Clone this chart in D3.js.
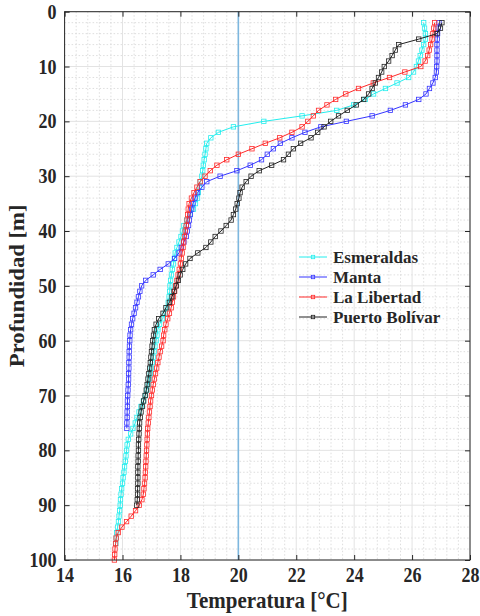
<!DOCTYPE html>
<html>
<head>
<meta charset="utf-8">
<script src="https://cdn.jsdelivr.net/npm/d3@7"></script>
<style>
  html, body { margin: 0; padding: 0; background: #fff; }
  svg { display: block; }
  text { font-family: "Liberation Serif", "Times New Roman", serif; font-weight: bold; fill: #262626; }
</style>
</head>
<body>
<svg id="chart" width="480" height="616"></svg>
<script>
// Temperature profiles (°C) sampled every metre, starting at startDepth
const stations = ["Esmeraldas", "Manta", "La Libertad", "Puerto Bolívar"];
const stationColors = ["#22eeee", "#3535ff", "#ff2a2a", "#222222"];

const esmeraldasStart = 2;
const esmeraldasTemp = [
  26.40, 26.43, 26.46, 26.46, 26.40, 26.34, 26.28, 26.22, 26.15, 26.05,
  25.88, 25.48, 25.08, 24.67, 24.38, 23.98, 23.40, 22.20, 20.88, 19.83,
  19.31, 19.05, 18.91, 18.88, 18.85, 18.82, 18.79, 18.77, 18.74, 18.68,
  18.66, 18.62, 18.59, 18.52, 18.45, 18.33, 18.22, 18.12, 18.07, 18.02,
  17.95, 17.88, 17.82, 17.79, 17.76, 17.72, 17.69, 17.66, 17.64, 17.63,
  17.61, 17.58, 17.55, 17.47, 17.38, 17.28, 17.22, 17.19, 17.16, 17.12,
  17.09, 17.06, 17.03, 16.99, 16.96, 16.93, 16.89, 16.84, 16.79, 16.72,
  16.64, 16.57, 16.50, 16.44, 16.36, 16.28, 16.20, 16.16, 16.14, 16.12,
  16.10, 16.07, 16.05, 16.02, 16.00, 15.97, 15.95, 15.93, 15.92, 15.90,
  15.88, 15.86, 15.83, 15.80, 15.78, 15.77
];

const mantaStart = 2;
const mantaTemp = [
  26.93, 26.90, 26.88, 26.87, 26.86, 26.86, 26.86, 26.86, 26.85, 26.84,
  26.80, 26.72, 26.60, 26.48, 26.23, 25.77, 25.25, 24.62, 23.73, 22.85,
  22.30, 21.85, 21.45, 21.21, 21.00, 20.80, 20.41, 19.95, 19.37, 18.91,
  18.74, 18.59, 18.50, 18.43, 18.39, 18.34, 18.31, 18.28, 18.24, 18.20,
  18.12, 18.03, 17.95, 17.80, 17.58, 17.30, 17.06, 16.80, 16.66, 16.60,
  16.55, 16.50, 16.45, 16.40, 16.35, 16.31, 16.28, 16.26, 16.25, 16.24,
  16.23, 16.23, 16.22, 16.22, 16.21, 16.21, 16.20, 16.19, 16.18, 16.17,
  16.17, 16.16, 16.16, 16.15, 16.15
];

const libertadStart = 2;
const libertadTemp = [
  26.78, 26.75, 26.72, 26.69, 26.64, 26.59, 26.54, 26.45, 26.30, 25.75,
  25.22, 24.66, 24.15, 23.71, 23.36, 23.06, 22.77, 22.59, 22.40, 22.20,
  21.85, 21.43, 20.93, 20.47, 20.00, 19.60, 19.26, 19.03, 18.85, 18.68,
  18.57, 18.47, 18.38, 18.30, 18.27, 18.25, 18.23, 18.20, 18.17, 18.14,
  18.11, 18.09, 18.06, 18.03, 18.00, 17.96, 17.92, 17.88, 17.84, 17.80,
  17.76, 17.72, 17.68, 17.62, 17.56, 17.50, 17.46, 17.42, 17.40, 17.35,
  17.30, 17.26, 17.22, 17.18, 17.14, 17.10, 17.06, 17.03, 17.00, 16.97,
  16.95, 16.93, 16.91, 16.89, 16.87, 16.86, 16.85, 16.84, 16.83, 16.82,
  16.81, 16.80, 16.79, 16.78, 16.76, 16.74, 16.72, 16.67, 16.58, 16.45,
  16.30, 16.14, 15.98, 15.85, 15.78, 15.76, 15.74, 15.73, 15.72
];

const bolivarStart = 2;
const bolivarTemp = [
  27.03, 26.98, 26.86, 26.23, 25.54, 25.42, 25.31, 25.19, 25.04, 24.95,
  24.84, 24.73, 24.62, 24.50, 24.33, 24.07, 23.76, 23.46, 23.19, 22.96,
  22.74, 22.51, 22.15, 21.90, 21.73, 21.56, 21.15, 20.72, 20.44, 20.27,
  20.13, 20.06, 20.02, 19.96, 19.91, 19.83, 19.75, 19.58, 19.40, 19.20,
  19.05, 18.88, 18.60, 18.33, 18.18, 18.08, 17.99, 17.93, 17.86, 17.78,
  17.71, 17.62, 17.50, 17.40, 17.25, 17.16, 17.10, 17.07, 17.04, 17.02,
  17.00, 16.98, 16.96, 16.94, 16.91, 16.88, 16.85, 16.82, 16.78, 16.73,
  16.68, 16.64, 16.61, 16.59, 16.58, 16.57, 16.56, 16.55, 16.55, 16.54,
  16.54, 16.53, 16.53, 16.53, 16.53, 16.52, 16.52, 16.51, 16.49
];

// Reference isotherm
const isotherm = 20;

// Axis ticks
const xTicks = [14, 16, 18, 20, 22, 24, 26, 28];
const yTicks = [0, 10, 20, 30, 40, 50, 60, 70, 80, 90, 100];

const profiles = [
  { start: esmeraldasStart, temps: esmeraldasTemp },
  { start: mantaStart, temps: mantaTemp },
  { start: libertadStart, temps: libertadTemp },
  { start: bolivarStart, temps: bolivarTemp }
].map((p, i) => ({
  name: stations[i],
  color: stationColors[i],
  points: p.temps.map((t, k) => ({ t, d: p.start + k }))
}));

const svg = d3.select("#chart");
const plotL = 64.6, plotR = 470, plotT = 11.7, plotB = 560;

const x = d3.scaleLinear().domain([14, 28]).range([plotL, plotR]);
const y = d3.scaleLinear().domain([0, 100]).range([plotT, plotB]);

// Stretch glyphs vertically about their own centre (tall tick lettering)
function stretchY(sel, k) {
  sel.each(function () {
    const b = this.getBBox();
    const cy = b.y + b.height / 2;
    d3.select(this).attr("transform", `translate(0,${cy}) scale(1,${k}) translate(0,${-cy})`);
  });
}

// Minor grid (dotted)
const xMinor = d3.range(14, 28.001, 0.4).filter(v => Math.abs(v / 2 - Math.round(v / 2)) > 1e-6);
const yMinor = d3.range(0, 100.001, 2).filter(v => v % 10 !== 0);
const grid = svg.append("g");
grid.selectAll(".vx").data(xMinor).join("line")
  .attr("x1", d => x(d)).attr("x2", d => x(d)).attr("y1", plotT).attr("y2", plotB)
  .attr("stroke", "#d6d6d6").attr("stroke-width", 0.8).attr("stroke-dasharray", "1.5,2");
grid.selectAll(".hy").data(yMinor).join("line")
  .attr("y1", d => y(d)).attr("y2", d => y(d)).attr("x1", plotL).attr("x2", plotR)
  .attr("stroke", "#d6d6d6").attr("stroke-width", 0.8).attr("stroke-dasharray", "1.5,2");

// Major grid
grid.selectAll(".mx").data(xTicks).join("line")
  .attr("x1", d => x(d)).attr("x2", d => x(d)).attr("y1", plotT).attr("y2", plotB)
  .attr("stroke", "#e3e3e3").attr("stroke-width", 1);
grid.selectAll(".my").data(yTicks).join("line")
  .attr("y1", d => y(d)).attr("y2", d => y(d)).attr("x1", plotL).attr("x2", plotR)
  .attr("stroke", "#e3e3e3").attr("stroke-width", 1);

// 20 °C reference line
svg.append("line")
  .attr("x1", x(isotherm)).attr("x2", x(isotherm)).attr("y1", plotT).attr("y2", plotB)
  .attr("stroke", "#7db7df").attr("stroke-width", 1.6);

// Profiles
const line = d3.line().x(p => x(p.t)).y(p => y(p.d));
const ms = 4.4;
profiles.forEach(p => {
  const g = svg.append("g");
  g.append("path").datum(p.points).attr("d", line)
    .attr("fill", "none").attr("stroke", p.color).attr("stroke-width", 1);
  g.selectAll("rect").data(p.points).join("rect")
    .attr("x", q => x(q.t) - ms / 2).attr("y", q => y(q.d) - ms / 2)
    .attr("width", ms).attr("height", ms)
    .attr("fill", "none").attr("stroke", p.color).attr("stroke-width", 0.8);
});

// Axes with inward ticks on all four sides
const axisColor = "#262626";
function styleAxis(g) {
  g.select(".domain").remove();
  g.selectAll(".tick line").attr("stroke", axisColor);
  g.selectAll(".tick text").attr("fill", axisColor)
    .style("font-family", "'Liberation Serif', 'Times New Roman', serif")
    .style("font-weight", "bold").style("font-size", "18px");
}
const gx = svg.append("g").attr("transform", `translate(0,${plotB})`)
  .call(d3.axisBottom(x).tickValues(xTicks).tickFormat(d3.format("d")).tickSize(-5).tickPadding(9))
  .call(styleAxis);
svg.append("g").attr("transform", `translate(0,${plotT})`)
  .call(d3.axisTop(x).tickValues(xTicks).tickFormat("").tickSize(-5))
  .call(styleAxis);
const gy = svg.append("g").attr("transform", `translate(${plotL},0)`)
  .call(d3.axisLeft(y).tickValues(yTicks).tickFormat(d3.format("d")).tickSize(-5).tickPadding(8))
  .call(styleAxis);
svg.append("g").attr("transform", `translate(${plotR},0)`)
  .call(d3.axisRight(y).tickValues(yTicks).tickFormat("").tickSize(-5))
  .call(styleAxis);
stretchY(gx.selectAll(".tick text"), 1.12);
stretchY(gy.selectAll(".tick text"), 1.12);

// Box
svg.append("rect").attr("x", plotL).attr("y", plotT).attr("width", plotR - plotL).attr("height", plotB - plotT)
  .attr("fill", "none").attr("stroke", axisColor).attr("stroke-width", 1);

// Axis titles
const xTitle = svg.append("text").attr("x", (plotL + plotR) / 2).attr("y", 607)
  .attr("text-anchor", "middle").style("font-size", "21px").text("Temperatura [°C]");
stretchY(xTitle, 1.08);
svg.append("text").attr("transform", `translate(24,${(plotT + plotB) / 2}) rotate(-90) scale(1.08,1)`)
  .attr("text-anchor", "middle").style("font-size", "21px").text("Profundidad [m]");

// Legend
const legend = svg.append("g");
stations.forEach((name, i) => {
  const ly = 257 + i * 20;
  legend.append("line").attr("x1", 299).attr("x2", 327).attr("y1", ly).attr("y2", ly)
    .attr("stroke", stationColors[i]).attr("stroke-width", 1);
  legend.append("rect").attr("x", 313 - 1.7).attr("y", ly - 1.7).attr("width", 3.4).attr("height", 3.4)
    .attr("fill", "none").attr("stroke", stationColors[i]).attr("stroke-width", 0.8);
  legend.append("text").attr("x", 333).attr("y", ly + 6).style("font-size", "17px").text(name);
});
</script>
</body>
</html>
